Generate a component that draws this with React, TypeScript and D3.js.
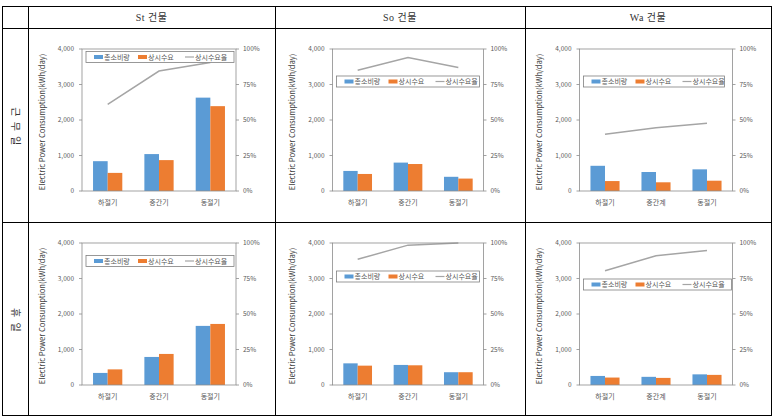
import * as d3 from 'd3';

// 표 머리글
const buildings = ['St 건물', 'So 건물', 'Wa 건물'];
const dayTypes = ['근 무 일', '휴 일'];
const seriesNames = ['총소비량', '상시수요', '상시수요율'];
const categories = ['하절기', '중간기', '동절기'];
const categoriesWa = ['하절기', '중간계', '동절기'];
const leftTicks = [0, 1000, 2000, 3000, 4000];
const rightTicks = [0, 0.25, 0.5, 0.75, 1];
const axisTitle = 'Electric Power Consumption(kWh/day)';

// 근무일
const stWorkTotal = [840, 1040, 2630];
const stWorkBase = [510, 870, 2390];
const stWorkRate = [0.61, 0.845, 0.905];
const soWorkTotal = [565, 800, 400];
const soWorkBase = [480, 760, 350];
const soWorkRate = [0.85, 0.94, 0.87];
const waWorkTotal = [710, 535, 610];
const waWorkBase = [280, 245, 290];
const waWorkRate = [0.4, 0.445, 0.477];

// 휴일
const stHolTotal = [340, 790, 1665];
const stHolBase = [440, 875, 1720];
const stHolRate = [1.29, 1.11, 1.03];
const soHolTotal = [610, 565, 360];
const soHolBase = [545, 555, 360];
const soHolRate = [0.885, 0.985, 1.0];
const waHolTotal = [255, 230, 300];
const waHolBase = [210, 200, 285];
const waHolRate = [0.805, 0.91, 0.948];

const BLUE = '#5B9BD5';
const ORANGE = '#ED7D31';
const GRAY = '#A5A5A5';
const AXIS = '#8C8C8C';
const TXT = '#595959';
const FONT = "'Noto Sans CJK KR', 'Liberation Sans', sans-serif";

// 표 격자
const TABLE = { left: 2, right: 771, top: 6, bottom: 415, labelCol: 28, header: 28, rowSplit: 222 };
const colSplits = [275, 525];
const plotLefts = [82, 332.5, 579.5];
const plotWidths = [154, 151, 153];
const plotTops = [49, 243];
const PLOT_H = 142;

type PanelProps = {
  id: string;
  left: number;
  top: number;
  width: number;
  cats: string[];
  total: number[];
  base: number[];
  rate: number[];
  legendDy: number;
  legendW: number;
};

const Panel = ({ id, left, top, width, cats, total, base, rate, legendDy, legendW }: PanelProps) => {
  const bottom = top + PLOT_H;
  const x = d3.scaleBand<string>().domain(cats).range([left, left + width]);
  const bw = x.bandwidth();
  const inner = d3.scaleBand<string>().domain(['t', 'b']).range([bw * 0.215, bw * 0.785]);
  const y = d3.scaleLinear().domain([0, 4000]).range([bottom, top]);
  const y2 = d3.scaleLinear().domain([0, 1]).range([bottom, top]);
  const line = d3
    .line<number>()
    .x((_, i) => x(cats[i])! + bw / 2)
    .y((d) => y2(d));

  const lx = left + 4;
  const ly = top + legendDy;
  const itemX = [8, 52, 99];

  return (
    <g>
      <defs>
        <clipPath id={id}>
          <rect x={left} y={top - 1} width={width} height={PLOT_H + 1} />
        </clipPath>
      </defs>

      {/* 막대 */}
      {cats.map((c, i) => (
        <g key={c}>
          <rect x={x(c)! + inner('t')!} y={y(total[i])} width={inner.bandwidth()} height={bottom - y(total[i])} fill={BLUE} />
          <rect x={x(c)! + inner('b')!} y={y(base[i])} width={inner.bandwidth()} height={bottom - y(base[i])} fill={ORANGE} />
        </g>
      ))}

      {/* 상시수요율 */}
      <path d={line(rate)!} fill="none" stroke={GRAY} strokeWidth={1.5} clipPath={`url(#${id})`} />

      {/* 플롯 테두리 */}
      <rect x={left} y={top} width={width} height={PLOT_H} fill="none" stroke={AXIS} strokeWidth={0.8} />

      {/* 왼쪽 축 */}
      {leftTicks.map((t) => (
        <g key={t}>
          <line x1={left - 3} x2={left} y1={y(t)} y2={y(t)} stroke={AXIS} strokeWidth={0.8} />
          <text x={left - 8} y={y(t)} dy="0.35em" textAnchor="end" fontSize={6.5} fill={TXT} fontFamily={FONT}>
            {d3.format(',')(t)}
          </text>
        </g>
      ))}

      {/* 오른쪽 축 */}
      {rightTicks.map((t) => (
        <g key={t}>
          <line x1={left + width} x2={left + width + 3} y1={y2(t)} y2={y2(t)} stroke={AXIS} strokeWidth={0.8} />
          <text x={left + width + 7} y={y2(t)} dy="0.35em" fontSize={6.5} fill={TXT} fontFamily={FONT}>
            {d3.format('.0%')(t)}
          </text>
        </g>
      ))}

      {/* 범주 */}
      {cats.map((c) => (
        <text key={c} x={x(c)! + bw / 2} y={bottom + 12} dy="0.35em" textAnchor="middle" fontSize={7} fill={TXT} fontFamily={FONT}>
          {c}
        </text>
      ))}

      <text
        transform={`translate(${left - 40},${top + PLOT_H / 2 + 2}) rotate(-90)`}
        textAnchor="middle"
        dy="0.35em"
        fontSize={7.6}
        fill="#404040"
        fontFamily={FONT}
      >
        {axisTitle}
      </text>

      {/* 범례 */}
      <g transform={`translate(${lx},${ly})`}>
        <rect x={0} y={0} width={legendW} height={11} fill="#fff" stroke="#7F7F7F" strokeWidth={0.8} />
        <rect x={itemX[0]} y={3.5} width={9} height={4} fill={BLUE} />
        <rect x={itemX[1]} y={3.5} width={9} height={4} fill={ORANGE} />
        <line x1={itemX[2]} x2={itemX[2] + 9} y1={5.5} y2={5.5} stroke={GRAY} strokeWidth={1.2} />
        {seriesNames.map((s, i) => (
          <text key={s} x={itemX[i] + 10} y={5.7} dy="0.35em" fontSize={7} fill={TXT} fontFamily={FONT}>
            {s}
          </text>
        ))}
      </g>
    </g>
  );
};

export default function App() {
  const panels = [
    { cats: categories, total: stWorkTotal, base: stWorkBase, rate: stWorkRate, legendDy: 2.5, legendW: 148 },
    { cats: categories, total: soWorkTotal, base: soWorkBase, rate: soWorkRate, legendDy: 27, legendW: 143 },
    { cats: categoriesWa, total: waWorkTotal, base: waWorkBase, rate: waWorkRate, legendDy: 27, legendW: 141 },
    { cats: categories, total: stHolTotal, base: stHolBase, rate: stHolRate, legendDy: 12.5, legendW: 148 },
    { cats: categories, total: soHolTotal, base: soHolBase, rate: soHolRate, legendDy: 28, legendW: 143 },
    { cats: categoriesWa, total: waHolTotal, base: waHolBase, rate: waHolRate, legendDy: 36, legendW: 148 },
  ];

  const colEdges = [TABLE.labelCol, ...colSplits, TABLE.right];

  return (
    <svg width={780} height={420} style={{ position: 'absolute', left: 0, top: 0, background: '#fff' }}>
      <rect x={0} y={0} width={780} height={420} fill="#fff" />

      {/* 표 선 */}
      <g stroke="#000" strokeWidth={1} shapeRendering="crispEdges">
        <rect x={TABLE.left} y={TABLE.top} width={TABLE.right - TABLE.left} height={TABLE.bottom - TABLE.top} fill="none" />
        <line x1={TABLE.labelCol} x2={TABLE.labelCol} y1={TABLE.top} y2={TABLE.bottom} />
        {colSplits.map((cx) => (
          <line key={cx} x1={cx} x2={cx} y1={TABLE.top} y2={TABLE.bottom} />
        ))}
        <line x1={TABLE.left} x2={TABLE.right} y1={TABLE.header} y2={TABLE.header} />
        <line x1={TABLE.left} x2={TABLE.right} y1={TABLE.rowSplit} y2={TABLE.rowSplit} />
      </g>

      {buildings.map((b, i) => (
        <text
          key={b}
          x={(colEdges[i] + colEdges[i + 1]) / 2}
          y={(TABLE.top + TABLE.header) / 2}
          dy="0.35em"
          textAnchor="middle"
          fontSize={10}
          letterSpacing={0.5}
          fill="#333"
          fontFamily="'Liberation Serif', 'Noto Sans CJK KR', serif"
        >
          {b}
        </text>
      ))}

      {dayTypes.map((d, i) => {
        const cy = i === 0 ? (TABLE.header + TABLE.rowSplit) / 2 + 2 : (TABLE.rowSplit + TABLE.bottom) / 2 + 2;
        return (
          <text
            key={d}
            transform={`translate(${(TABLE.left + TABLE.labelCol) / 2},${cy}) rotate(90)`}
            textAnchor="middle"
            dy="0.35em"
            fontSize={10}
            letterSpacing={1.5}
            fill="#333"
            fontFamily={FONT}
          >
            {d}
          </text>
        );
      })}

      {panels.map((p, i) => {
        const col = i % 3;
        const row = Math.floor(i / 3);
        return (
          <Panel
            key={i}
            id={`clip${i}`}
            left={plotLefts[col]}
            top={plotTops[row]}
            width={plotWidths[col]}
            {...p}
          />
        );
      })}
    </svg>
  );
}
